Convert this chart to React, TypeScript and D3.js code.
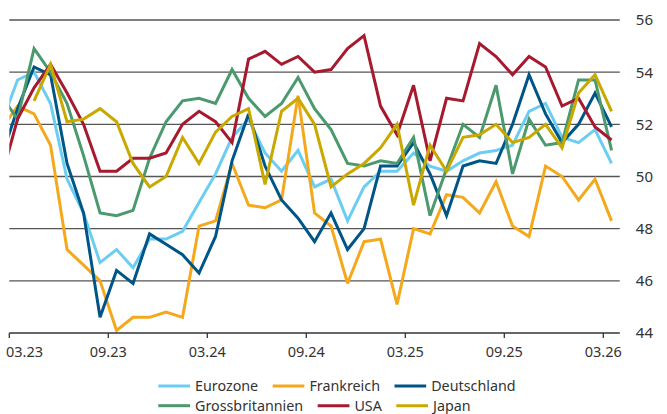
import React, { useEffect, useRef } from "react";
import * as d3 from "d3";

const months = [
  "2023-02", "2023-03", "2023-04", "2023-05", "2023-06", "2023-07", "2023-08", "2023-09", "2023-10", "2023-11", "2023-12",
  "2024-01", "2024-02", "2024-03", "2024-04", "2024-05", "2024-06", "2024-07", "2024-08", "2024-09", "2024-10", "2024-11", "2024-12",
  "2025-01", "2025-02", "2025-03", "2025-04", "2025-05", "2025-06", "2025-07", "2025-08", "2025-09", "2025-10", "2025-11", "2025-12",
  "2026-01", "2026-02", "2026-03",
];

const tickLabels = ["03.23", "09.23", "03.24", "09.24", "03.25", "09.25", "03.26"];
const yTicks = [44, 46, 48, 50, 52, 54, 56];

const eurozone = [52.0, 53.7, 54.0, 52.8, 49.9, 48.6, 46.7, 47.2, 46.5, 47.6, 47.6, 47.9, 49.0, 50.1, 51.5, 52.2, 50.9, 50.2, 51.0, 49.6, 49.9, 48.3, 49.6, 50.2, 50.2, 50.9, 50.4, 50.2, 50.6, 50.9, 51.0, 51.2, 52.5, 52.8, 51.5, 51.3, 51.8, 50.5];
const frankreich = [51.8, 52.7, 52.4, 51.2, 47.2, 46.6, 46.0, 44.1, 44.6, 44.6, 44.8, 44.6, 48.1, 48.3, 50.5, 48.9, 48.8, 49.1, 53.1, 48.6, 48.1, 45.9, 47.5, 47.6, 45.1, 48.0, 47.8, 49.3, 49.2, 48.6, 49.8, 48.1, 47.7, 50.4, 50.0, 49.1, 49.9, 48.3];
const deutschland = [50.7, 52.6, 54.2, 53.9, 50.5, 48.6, 44.6, 46.4, 45.9, 47.8, 47.4, 47.0, 46.3, 47.7, 50.6, 52.4, 50.4, 49.1, 48.4, 47.5, 48.6, 47.2, 48.0, 50.4, 50.4, 51.3, 50.1, 48.5, 50.4, 50.6, 50.5, 52.0, 53.9, 52.4, 51.3, 52.0, 53.2, 51.9];
const grossbritannien = [53.1, 52.2, 54.9, 54.0, 52.8, 50.8, 48.6, 48.5, 48.7, 50.7, 52.1, 52.9, 53.0, 52.8, 54.1, 53.0, 52.3, 52.8, 53.8, 52.6, 51.8, 50.5, 50.4, 50.6, 50.5, 51.5, 48.5, 50.3, 52.0, 51.5, 53.5, 50.1, 52.2, 51.2, 51.3, 53.7, 53.7, 51.0];
const usa = [49.9, 52.2, 53.4, 54.3, 53.2, 52.0, 50.2, 50.2, 50.7, 50.7, 50.9, 52.0, 52.5, 52.1, 51.3, 54.5, 54.8, 54.3, 54.6, 54.0, 54.1, 54.9, 55.4, 52.7, 51.6, 53.5, 50.6, 53.0, 52.9, 55.1, 54.6, 53.9, 54.6, 54.2, 52.7, 53.0, 51.9, 51.4];
const japan = [null, null, 52.9, 54.3, 52.1, 52.2, 52.6, 52.1, 50.5, 49.6, 50.0, 51.5, 50.5, 51.7, 52.3, 52.6, 49.7, 52.5, 53.0, 52.0, 49.6, 50.1, 50.5, 51.1, 52.0, 48.9, 51.2, 50.2, 51.5, 51.6, 52.0, 51.3, 51.5, 52.0, 51.1, 53.2, 53.9, 52.5];

const series = [
  { name: "Eurozone", values: eurozone, color: "#6ccdf3" },
  { name: "Frankreich", values: frankreich, color: "#f4a81c" },
  { name: "Deutschland", values: deutschland, color: "#005587" },
  { name: "Grossbritannien", values: grossbritannien, color: "#4a9a6e" },
  { name: "USA", values: usa, color: "#a6192e" },
  { name: "Japan", values: japan, color: "#c9a800" },
];

const legendRows = [
  ["Eurozone", "Frankreich", "Deutschland"],
  ["Grossbritannien", "USA", "Japan"],
];

const FONT = "'Noto Sans', 'Open Sans', sans-serif";

export default function App() {
  const ref = useRef<SVGSVGElement>(null);

  useEffect(() => {
    const svg = d3.select(ref.current);
    svg.selectAll("*").remove();

    const left = 9.3;
    const top = 20;
    const bottom = 333;
    const perMonth = 16.5;
    const right = left + 37 * perMonth;

    const monthIndex = (m: string) => {
      const [yy, mm] = m.split("-").map(Number);
      return (yy - 2023) * 12 + (mm - 3);
    };
    const tickIndex = (t: string) => {
      const [mm, yy] = t.split(".").map(Number);
      return (2000 + yy - 2023) * 12 + (mm - 3);
    };

    const x = d3.scaleLinear().domain([0, 37]).range([left, right]);
    const y = d3.scaleLinear().domain([44, 56]).range([bottom, top]);

    svg.append("rect").attr("width", 667).attr("height", 414).attr("fill", "#ffffff");

    const defs = svg.append("defs");
    defs.append("clipPath").attr("id", "plotclip")
      .append("rect").attr("x", left).attr("y", 0).attr("width", right - left).attr("height", 414);

    // gridlines
    svg.append("g").selectAll("line")
      .data(yTicks.filter((v) => v !== 44))
      .join("line")
      .attr("x1", left).attr("x2", right)
      .attr("y1", (d) => y(d)).attr("y2", (d) => y(d))
      .attr("stroke", "#555").attr("stroke-width", 1.3);

    // y labels
    svg.append("g").selectAll("text")
      .data(yTicks)
      .join("text")
      .attr("x", 653).attr("y", (d) => y(d)).attr("dy", "0.36em")
      .attr("text-anchor", "end")
      .attr("font-family", FONT).attr("font-size", 15).attr("fill", "#333")
      .text((d) => d);

    // lines
    const g = svg.append("g").attr("clip-path", "url(#plotclip)");
    const line = d3.line<number | null>()
      .defined((d) => d != null)
      .x((_, i) => x(monthIndex(months[i]) + 0.5))
      .y((d) => y(d as number));
    series.forEach((s) => {
      g.append("path")
        .attr("d", line(s.values as (number | null)[]) || "")
        .attr("fill", "none")
        .attr("stroke", s.color)
        .attr("stroke-width", 3)
        .attr("stroke-linejoin", "miter")
        .attr("stroke-miterlimit", 3);
    });

    // x axis
    svg.append("line")
      .attr("x1", left).attr("x2", right)
      .attr("y1", y(44)).attr("y2", y(44))
      .attr("stroke", "#333").attr("stroke-width", 1.3);
    const xt = svg.append("g");
    tickLabels.forEach((t) => {
      const xp = x(tickIndex(t));
      xt.append("line")
        .attr("x1", xp).attr("x2", xp)
        .attr("y1", y(44)).attr("y2", y(44) + 5)
        .attr("stroke", "#333").attr("stroke-width", 1.3);
      const txt = xt.append("text")
        .attr("x", xp).attr("y", 357)
        .attr("text-anchor", "middle")
        .attr("font-family", FONT).attr("font-size", 14.5).attr("fill", "#333")
        .text(t);
      const node = txt.node() as SVGTextElement;
      const w = node.getComputedTextLength();
      if (xp - w / 2 < 6) {
        txt.attr("text-anchor", "start").attr("x", 6);
      }
    });

    // legend
    const lg = svg.append("g");
    const rowY = [386, 405.7];
    legendRows.forEach((row, ri) => {
      let cx = 158.3;
      row.forEach((name) => {
        const s = series.find((q) => q.name === name)!;
        lg.append("line")
          .attr("x1", cx).attr("x2", cx + 31.7)
          .attr("y1", rowY[ri]).attr("y2", rowY[ri])
          .attr("stroke", s.color).attr("stroke-width", 3);
        const txt = lg.append("text")
          .attr("x", cx + 36.7).attr("y", rowY[ri]).attr("dy", "0.36em")
          .attr("font-family", FONT).attr("font-size", 14.3).attr("fill", "#333")
          .text(name);
        const w = (txt.node() as SVGTextElement).getComputedTextLength();
        cx = cx + 36.7 + w + 14.5;
      });
    });
  }, []);

  return (
    <svg
      ref={ref}
      width={667}
      height={414}
      style={{ position: "absolute", left: 0, top: 0, display: "block" }}
    />
  );
}
